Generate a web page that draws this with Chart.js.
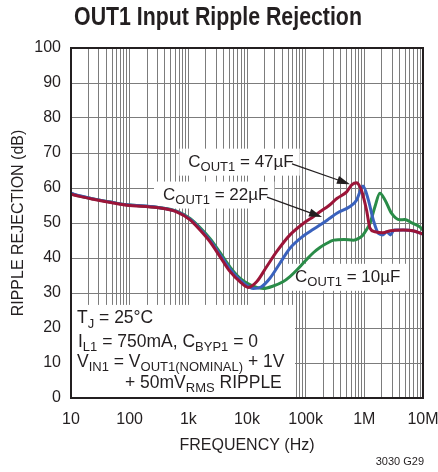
<!DOCTYPE html>
<html>
<head>
<meta charset="utf-8">
<script src="https://cdn.jsdelivr.net/npm/chart.js@4.4.0/dist/chart.umd.min.js"></script>
<style>
  body { margin: 0; background: #fff; }
  #wrap { width: 438px; height: 472px; position: relative; }
</style>
</head>
<body>
<div id="wrap"><canvas id="ripple"></canvas></div>
<script>
const SANS = '"Liberation Sans", Arial, sans-serif';
const INK = '#231f20';
const TITLE = 'OUT1 Input Ripple Rejection';

// frequency (Hz) and ripple rejection (dB)
const freq47 = [10, 14, 24, 50, 90, 290, 630, 1070, 1580, 2330, 3460, 5150, 7640, 10500, 14600, 21600, 32000, 54000, 90000, 135000, 175000, 250000, 340000, 500000, 610000, 740000, 800000, 890000, 1090000, 1250000, 1520000, 2070000, 2800000, 4600000, 6700000, 10000000];
const db47 = [58.2, 57.6, 56.8, 55.8, 55.1, 54.4, 53.2, 50.9, 48.0, 44.7, 40.4, 36.1, 33.2, 31.6, 33.2, 37.5, 41.8, 46.6, 49.8, 51.8, 53.2, 55.0, 57.0, 58.9, 60.9, 61.5, 61.0, 59.4, 53.7, 48.5, 47.5, 47.2, 47.8, 48.0, 47.8, 46.8];

const freq22 = [10, 14, 24, 50, 90, 290, 630, 1070, 1580, 2330, 3460, 5150, 7640, 11300, 12800, 17700, 24600, 36400, 54000, 91000, 135000, 175000, 250000, 340000, 570000, 740000, 890000, 950000, 1170000, 1420000, 1740000, 2070000, 2400000, 2800000, 3200000, 4600000, 6700000, 10000000];
const db22 = [58.5, 57.8, 56.9, 55.9, 55.2, 54.5, 53.3, 51.1, 48.3, 45.1, 41.0, 36.8, 33.7, 31.6, 31.3, 31.8, 34.2, 38.5, 42.8, 46.3, 48.2, 49.4, 51.2, 52.8, 54.7, 56.6, 59.9, 60.6, 56.6, 50.9, 47.0, 46.6, 47.5, 46.6, 48.0, 48.0, 47.8, 46.8];

const freq10 = [10, 14, 24, 50, 90, 290, 630, 1070, 1580, 2330, 3460, 5150, 7640, 14600, 19000, 28000, 41000, 54000, 70000, 100000, 135000, 175000, 230000, 300000, 450000, 650000, 800000, 950000, 1100000, 1250000, 1520000, 1840000, 2250000, 2900000, 4000000, 4900000, 6300000, 8800000, 10000000];
const db10 = [58.4, 57.7, 56.9, 55.9, 55.2, 54.5, 53.4, 51.3, 48.7, 45.6, 41.6, 37.4, 34.2, 31.6, 31.3, 32.0, 33.2, 34.7, 36.5, 39.3, 41.5, 43.0, 44.2, 45.1, 45.3, 45.1, 45.6, 46.6, 48.2, 49.9, 54.7, 58.5, 56.6, 52.8, 50.9, 51.0, 50.1, 48.9, 48.0];

const decadeValues = [10, 100, 1e3, 1e4, 1e5, 1e6, 1e7];
const decadeLabels = ['10', '100', '1k', '10k', '100k', '1M', '10M'];

function pts(f, d) {
  return f.map((v, i) => ({ x: v, y: d[i] }));
}

// text with subscripts: parts = [text, isSub]
function richWidth(ctx, parts, size) {
  let w = 0;
  parts.forEach(([t, sub]) => {
    ctx.font = (sub ? Math.round(size * 0.76) : size) + 'px ' + SANS;
    w += ctx.measureText(t).width;
  });
  return w;
}
function richText(ctx, x, y, parts, size) {
  let cx = x;
  ctx.textBaseline = 'alphabetic';
  ctx.textAlign = 'left';
  parts.forEach(([t, sub]) => {
    ctx.font = (sub ? Math.round(size * 0.76) : size) + 'px ' + SANS;
    ctx.fillText(t, cx, sub ? y + size * 0.24 : y);
    cx += ctx.measureText(t).width;
  });
}

// curve labels, anchored in data units (Hz, dB)
const notes = [
  { parts: [['C'], ['OUT1', 1], [' = 47µF']], f: 1000, db: 66.1, from: [58500, 66.9], to: [569000, 61.1] },
  { parts: [['C'], ['OUT1', 1], [' = 22µF']], f: 370, db: 56.7, from: [21900, 57.4], to: [190000, 51.7] },
  { parts: [['C'], ['OUT1', 1], [' = 10µF']], f: 65800, db: 33.2 }
];
const condLines = [
  [[['T'], ['J', 1], [' = 25°C']], 6, 21.3],
  [[['I'], ['L1', 1], [' = 750mA, C'], ['BYP1', 1], [' = 0']], 7, 14.7],
  [[['V'], ['IN1', 1], [' = V'], ['OUT1(NOMINAL)', 1], [' + 1V']], 6, 8.9],
  [[['+ 50mV'], ['RMS', 1], [' RIPPLE']], 54, 2.9]
];

const labelPlugin = {
  id: 'labels',
  beforeDatasetsDraw(chart) {
    const { ctx, chartArea: a, scales: { x, y } } = chart;
    ctx.save();
    ctx.fillStyle = '#fff';
    notes.forEach(n => {
      const px = x.getPixelForValue(n.f), py = y.getPixelForValue(n.db);
      const w = richWidth(ctx, n.parts, 17);
      ctx.fillRect(px - 9, py - 18, w + 15, 27);
    });
    // conditions box
    const top = y.getPixelForValue(26.6);
    ctx.fillRect(a.left, top, x.getPixelForValue(65800) - a.left, a.bottom - top);
    ctx.restore();
  },
  afterDatasetsDraw(chart) {
    const { ctx, chartArea: a, scales: { x, y } } = chart;
    ctx.save();
    ctx.fillStyle = INK;
    ctx.strokeStyle = INK;
    notes.forEach(n => {
      richText(ctx, x.getPixelForValue(n.f), y.getPixelForValue(n.db), n.parts, 17);
      if (n.from) {
        const x1 = x.getPixelForValue(n.from[0]), y1 = y.getPixelForValue(n.from[1]);
        const x2 = x.getPixelForValue(n.to[0]), y2 = y.getPixelForValue(n.to[1]);
        const ang = Math.atan2(y2 - y1, x2 - x1);
        ctx.lineWidth = 1.2;
        ctx.beginPath();
        ctx.moveTo(x1, y1);
        ctx.lineTo(x2 - 8 * Math.cos(ang), y2 - 8 * Math.sin(ang));
        ctx.stroke();
        ctx.beginPath();
        ctx.moveTo(x2, y2);
        ctx.lineTo(x2 - 13 * Math.cos(ang) + 4 * Math.sin(ang), y2 - 13 * Math.sin(ang) - 4 * Math.cos(ang));
        ctx.lineTo(x2 - 13 * Math.cos(ang) - 4 * Math.sin(ang), y2 - 13 * Math.sin(ang) + 4 * Math.cos(ang));
        ctx.closePath();
        ctx.fill();
      }
    });
    condLines.forEach(([parts, dx, db]) => {
      richText(ctx, a.left + dx, y.getPixelForValue(db), parts, 17.5);
    });
    ctx.restore();
  },
  afterDraw(chart) {
    const { ctx, chartArea: a } = chart;
    ctx.save();
    ctx.strokeStyle = INK;
    ctx.lineWidth = 2;
    ctx.strokeRect(a.left, a.top, a.right - a.left, a.bottom - a.top);
    ctx.fillStyle = INK;
    ctx.font = '11px ' + SANS;
    ctx.textAlign = 'right';
    ctx.textBaseline = 'middle';
    ctx.fillText('3030 G29', a.right + 1, 462);
    // condensed bold title
    ctx.font = 'bold 26px ' + SANS;
    ctx.textAlign = 'center';
    ctx.textBaseline = 'alphabetic';
    ctx.translate(218, 25);
    ctx.scale(0.82, 1);
    ctx.fillText(TITLE, 0, 0);
    ctx.restore();
  }
};

const line = (label, f, d, color) => ({
  label: label,
  data: pts(f, d),
  borderColor: color,
  borderWidth: 3,
  pointRadius: 0,
  fill: false,
  cubicInterpolationMode: 'monotone'
});

new Chart(document.getElementById('ripple'), {
  type: 'line',
  data: {
    datasets: [
      line('47µF', freq47, db47, '#9b1538'),
      line('22µF', freq22, db22, '#3a62bd'),
      line('10µF', freq10, db10, '#2a8c48')
    ]
  },
  options: {
    responsive: true,
    maintainAspectRatio: false,
    animation: false,
    layout: { padding: { right: 15, left: 0, top: 48, bottom: 0 } },
    plugins: {
      legend: { display: false },
      tooltip: { enabled: false },
      title: { display: false }
    },
    scales: {
      x: {
        type: 'logarithmic',
        min: 10,
        max: 1e7,
        afterFit(s) {
          s.height = 74;
          s.paddingLeft = 0;
          s.paddingRight = 0;
        },
        afterBuildTicks(s) {
          const t = [];
          for (let d = 10; d < 1e7; d *= 10) {
            for (let k = 1; k < 10; k++) t.push({ value: d * k });
          }
          t.push({ value: 1e7 });
          s.ticks = t;
        },
        ticks: {
          autoSkip: false,
          maxRotation: 0,
          padding: 12,
          color: INK,
          font: { family: SANS, size: 16 },
          callback(v) {
            const i = decadeValues.indexOf(v);
            return i >= 0 ? decadeLabels[i] : '';
          }
        },
        grid: { color: '#7c7c7c', lineWidth: 1, drawTicks: false },
        border: { display: false },
        title: {
          display: true,
          text: 'FREQUENCY (Hz)',
          color: INK,
          font: { family: SANS, size: 16 },
          padding: { top: 0, bottom: 17 }
        }
      },
      y: {
        min: 0,
        max: 100,
        afterFit(s) {
          s.width = 71;
          s.paddingTop = 0;
          s.paddingBottom = 0;
        },
        ticks: {
          stepSize: 10,
          padding: 10,
          color: INK,
          font: { family: SANS, size: 16 }
        },
        grid: { color: '#7c7c7c', lineWidth: 1, drawTicks: false },
        border: { display: false },
        title: {
          display: true,
          text: 'RIPPLE REJECTION (dB)',
          color: INK,
          font: { family: SANS, size: 16 },
          padding: { top: 9, bottom: 0 }
        }
      }
    }
  },
  plugins: [labelPlugin]
});
</script>
</body>
</html>
